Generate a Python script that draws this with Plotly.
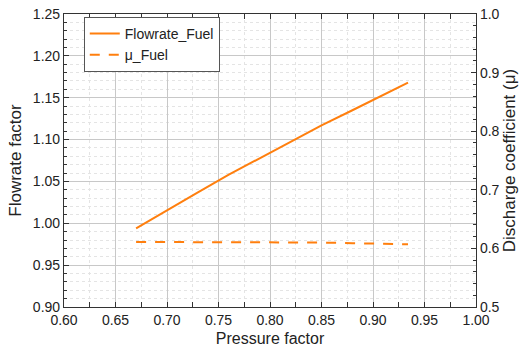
import plotly.graph_objects as go

pressure = [0.67, 0.70, 0.73, 0.76, 0.79, 0.82, 0.85, 0.88, 0.91, 0.934]
flowrate_fuel = [0.994, 1.016, 1.037, 1.058, 1.078, 1.097, 1.117, 1.135, 1.153, 1.168]
mu_fuel = [0.611, 0.611, 0.611, 0.611, 0.610, 0.610, 0.610, 0.609, 0.608, 0.607]

orange = "#FF7F0E"
font_family = "Liberation Sans, Arial, sans-serif"

fig = go.Figure()
fig.add_trace(go.Scatter(x=pressure, y=flowrate_fuel, mode="lines", name="Flowrate_Fuel",
                         line=dict(color=orange, width=2)))
fig.add_trace(go.Scatter(x=pressure, y=mu_fuel, mode="lines", name="\u03bc_Fuel", yaxis="y2",
                         line=dict(color=orange, width=2, dash="10px,9px")))

axis_common = dict(showline=True, linecolor="#333", linewidth=1.2, ticks="inside",
                   ticklen=5, tickcolor="#333", tickfont=dict(size=14, color="#222"),
                   zeroline=False, automargin=False)

fig.update_layout(
    width=525, height=349,
    margin=dict(l=64, r=49, t=14, b=42),
    paper_bgcolor="white", plot_bgcolor="white",
    font=dict(family=font_family, color="#222"),
    showlegend=True,
    legend=dict(x=0.048, y=0.99, xanchor="left", yanchor="top",
                bordercolor="#555", borderwidth=1, bgcolor="white",
                font=dict(size=14), tracegroupgap=0, itemwidth=30),
    xaxis=dict(range=[0.6, 1.0], dtick=0.05, tickformat=".2f", mirror="allticks",
               showgrid=True, gridcolor="#c8c8c8", gridwidth=1,
               minor=dict(dtick=0.025, showgrid=True, gridcolor="#e4e4e4", griddash="dot",
                          ticks="inside", ticklen=3, tickcolor="#333"),
               title=dict(text="Pressure factor", font=dict(size=16), standoff=5),
               **axis_common),
    yaxis=dict(range=[0.9, 1.25], dtick=0.05, tickformat=".2f", mirror=True,
               showgrid=True, gridcolor="#c8c8c8", gridwidth=1,
               minor=dict(dtick=0.01, showgrid=True, gridcolor="#e4e4e4", griddash="dot",
                          ticks="inside", ticklen=3, tickcolor="#333"),
               title=dict(text="Flowrate factor", font=dict(size=17), standoff=6),
               **axis_common),
    yaxis2=dict(range=[0.5, 1.0], dtick=0.1, tickformat=".1f", overlaying="y", side="right",
                showgrid=False,
                minor=dict(dtick=0.02, ticks="inside", ticklen=3, tickcolor="#333"),
                title=dict(text="Discharge coefficient (\u03bc)", font=dict(size=17), standoff=4),
                **axis_common),
)

fig.write_html("out.html", config={"displayModeBar": False},
               post_script="document.body.style.margin='0px';")
